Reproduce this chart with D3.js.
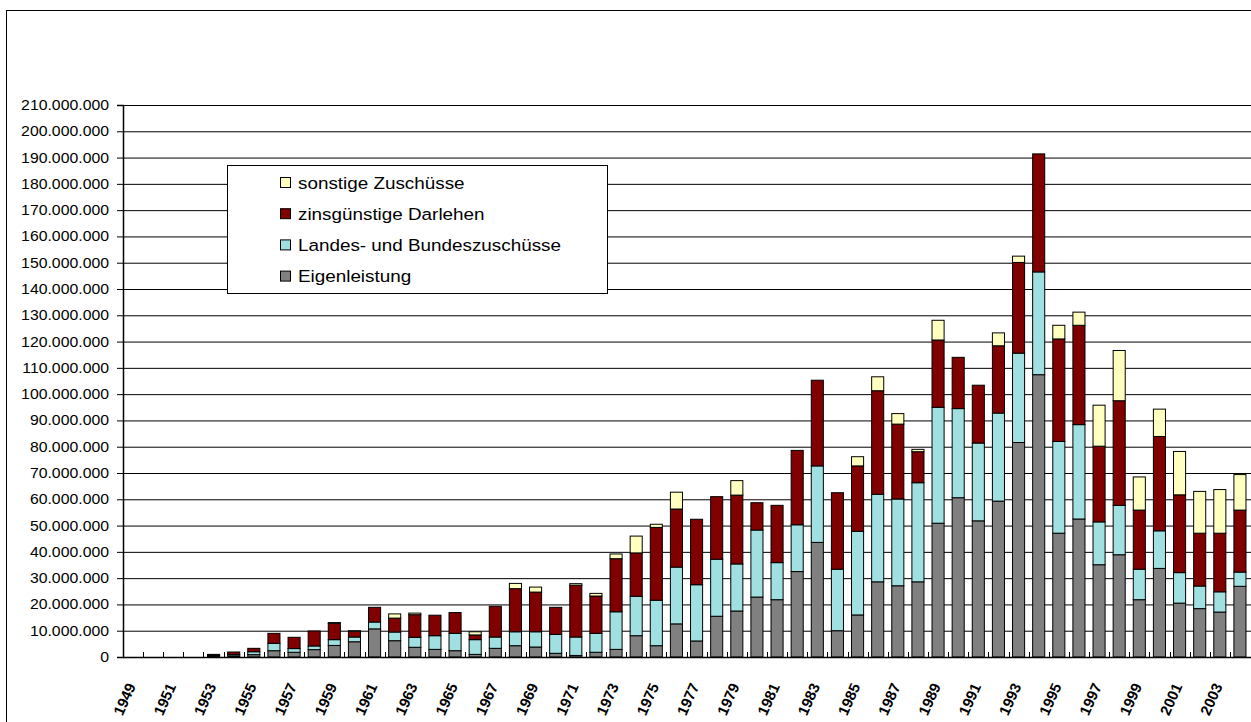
<!DOCTYPE html>
<html>
<head>
<meta charset="utf-8">
<script src="https://cdn.jsdelivr.net/npm/d3@7"></script>
<style>
  body { margin: 0; background: #fff; }
  svg { display: block; }
  text { font-family: "Liberation Sans", Arial, sans-serif; fill: #000; }
</style>
</head>
<body>
<div id="chart"></div>
<script>
// data (values in millions)
const years = [1949, 1950, 1951, 1952, 1953, 1954, 1955, 1956, 1957, 1958,
    1959, 1960, 1961, 1962, 1963, 1964, 1965, 1966, 1967, 1968,
    1969, 1970, 1971, 1972, 1973, 1974, 1975, 1976, 1977, 1978,
    1979, 1980, 1981, 1982, 1983, 1984, 1985, 1986, 1987, 1988,
    1989, 1990, 1991, 1992, 1993, 1994, 1995, 1996, 1997, 1998,
    1999, 2000, 2001, 2002, 2003, 2004]

const eigenleistung = [0, 0, 0, 0, 0.4, 0.4, 0.9, 2.4, 1.8, 2.8,
    4.4, 5.8, 10.7, 6.2, 3.7, 2.9, 2.4, 1.0, 3.3, 4.3,
    3.8, 1.4, 0.6, 1.8, 2.9, 8.1, 4.3, 12.6, 6.1, 15.5,
    17.5, 22.8, 21.8, 32.5, 43.6, 10.0, 16.0, 28.6, 27.1, 28.6,
    50.9, 60.6, 51.8, 59.3, 81.6, 107.4, 47.1, 52.5, 35.1, 38.9,
    21.8, 33.7, 20.5, 18.4, 17.1, 26.9]

const landesBund = [0, 0, 0, 0, 0.2, 0.5, 1.1, 2.8, 1.4, 1.4,
    2.2, 1.8, 2.6, 3.3, 3.8, 5.2, 6.6, 5.6, 4.3, 5.3,
    5.8, 7.2, 7.0, 7.2, 14.3, 15.0, 17.3, 21.6, 21.4, 21.7,
    17.9, 25.5, 14.1, 17.8, 29.1, 23.4, 31.8, 33.3, 33.0, 37.7,
    44.1, 33.9, 29.6, 33.5, 34.0, 39.1, 34.9, 35.9, 16.3, 18.8,
    11.6, 14.3, 11.6, 8.6, 7.7, 5.4]

const darlehen = [0, 0, 0, 0, 0.4, 1.0, 1.3, 3.8, 4.3, 5.7,
    6.2, 2.2, 5.6, 5.3, 8.6, 7.8, 7.9, 1.8, 11.7, 16.4,
    15.1, 10.3, 19.7, 14.2, 20.2, 16.5, 27.7, 22.1, 24.9, 23.8,
    26.2, 10.4, 21.8, 28.3, 32.6, 29.1, 24.9, 39.4, 28.5, 11.8,
    25.6, 19.5, 22.0, 25.6, 34.5, 44.9, 39.0, 37.8, 28.8, 39.8,
    22.5, 35.9, 29.6, 20.1, 22.3, 23.6]

const sonstige = [0, 0, 0, 0, 0, 0, 0, 0, 0, 0,
    0.3, 0.2, 0, 1.6, 0.6, 0, 0, 1.2, 0, 2.0,
    1.9, 0, 0.6, 1.0, 1.8, 6.4, 1.2, 6.4, 0, 0,
    5.5, 0, 0, 0, 0, 0, 3.5, 5.3, 4.0, 0.9,
    7.5, 0, 0, 4.9, 2.4, 0, 5.2, 5.0, 15.6, 19.1,
    12.6, 10.4, 16.5, 15.9, 16.6, 13.5]

const yTicks = [0, 10, 20, 30, 40, 50, 60, 70, 80, 90, 100,
    110, 120, 130, 140, 150, 160, 170, 180, 190, 200, 210]

const keys   = ["eigen", "landes", "darlehen", "sonstige"]
const labels = {
    eigen: "Eigenleistung",
    landes: "Landes- und Bundeszuschüsse",
    darlehen: "zinsgünstige Darlehen",
    sonstige: "sonstige Zuschüsse"
}
const colors = {
    eigen: "#808080",
    landes: "#a0e0e0",
    darlehen: "#800000",
    sonstige: "#ffffc0"
}

const mio = 1e6
const table = years.map((year, i) => ({
    year: year,
    eigen: eigenleistung[i] * mio,
    landes: landesBund[i] * mio,
    darlehen: darlehen[i] * mio,
    sonstige: sonstige[i] * mio
}))

// layout
const width = 1251
const height = 722
const plot = { left: 123, right: 1250, top: 105, bottom: 657 }

const de = d3.formatLocale({ decimal: ",", thousands: ".", grouping: [3], currency: ["", " €"] })
const fmt = de.format(",.0f")

const svg = d3.select("#chart")
    .append("svg")
        .attr("width", width)
        .attr("height", height)

// frame of the chart area
svg.append("rect")
    .attr("x", 6.5).attr("y", 10.5)
    .attr("width", width).attr("height", height)
    .attr("fill", "#fff")
    .attr("stroke", "#000")

const x = d3.scaleBand()
    .domain(years)
    .range([plot.left, plot.right])
    .paddingInner(0.4)
    .paddingOuter(0.2)

const y = d3.scaleLinear()
    .domain([0, 210 * mio])
    .range([plot.bottom, plot.top])

// gridlines
const grid = svg.append("g")
    .attr("transform", `translate(${plot.left},0)`)
    .call(d3.axisLeft(y)
        .tickValues(yTicks.map(d => d * mio))
        .tickSize(-(width - plot.left))
        .tickFormat(""))
grid.select(".domain").remove()
grid.selectAll("line").attr("stroke", "#000")

// bars
const series = d3.stack().keys(keys)(table)

svg.append("g").selectAll("g")
    .data(series)
    .join("g")
        .attr("fill", d => colors[d.key])
    .selectAll("rect")
    .data(d => d.filter(s => s[1] - s[0] > 0))
    .join("rect")
        .attr("x", d => x(d.data.year))
        .attr("y", d => y(d[1]))
        .attr("width", x.bandwidth())
        .attr("height", d => y(d[0]) - y(d[1]))
        .attr("stroke", "#000")
        .attr("stroke-width", 1)

// y axis
const yAxisGroup = svg.append("g")
    .attr("transform", `translate(${plot.left},0)`)
    .call(d3.axisLeft(y)
        .tickValues(yTicks.map(d => d * mio))
        .tickSize(6)
        .tickFormat(fmt))
yAxisGroup.selectAll("path, line").attr("stroke", "#000")
yAxisGroup.select(".domain").attr("stroke-width", 1.5)
yAxisGroup.selectAll("text")
    .attr("x", 0)
    .attr("transform", "translate(-14,0) scale(1.13,1)")
    .style("font-size", "14px")
    .style("font-family", "'Liberation Sans', Arial, sans-serif")

// x axis
const xAxisGroup = svg.append("g")
    .attr("transform", `translate(0,${plot.bottom})`)
    .call(d3.axisBottom(x)
        .tickValues(years.filter((d, i) => i % 2 === 0))
        .tickSize(0)
        .tickSizeOuter(0))
xAxisGroup.select(".domain").remove()
xAxisGroup.selectAll("text")
    .attr("x", 0).attr("y", 0).attr("dy", 0)
    .attr("text-anchor", "end")
    .attr("transform", "translate(3,29) rotate(-66)")
    .style("font-size", "15px")
    .style("font-weight", "bold")
    .style("font-family", "'Liberation Sans', Arial, sans-serif")

// baseline and category ticks
svg.append("line")
    .attr("x1", plot.left).attr("x2", width)
    .attr("y1", plot.bottom + 0.5).attr("y2", plot.bottom + 0.5)
    .attr("stroke", "#000")
    .attr("stroke-width", 1.5)

const halfGap = (x.step() - x.bandwidth()) / 2
svg.append("g").selectAll("line")
    .data(years)
    .join("line")
        .attr("x1", d => Math.round(x(d) - halfGap) + 0.5)
        .attr("x2", d => Math.round(x(d) - halfGap) + 0.5)
        .attr("y1", plot.bottom - 5)
        .attr("y2", plot.bottom)
        .attr("stroke", "#000")

// legend
const legend = svg.append("g")
legend.append("rect")
    .attr("x", 227.5).attr("y", 165.5)
    .attr("width", 380).attr("height", 128)
    .attr("fill", "#fff")
    .attr("stroke", "#000")

const legendItems = legend.selectAll("g.item")
    .data(keys.slice().reverse())
    .join("g")
        .attr("class", "item")
        .attr("transform", (d, i) => `translate(0,${188.5 + i * 31.2})`)

legendItems.append("rect")
    .attr("x", 280.5).attr("y", -11)
    .attr("width", 10).attr("height", 10)
    .attr("fill", d => colors[d])
    .attr("stroke", "#000")

legendItems.append("text")
    .attr("transform", "translate(298,0) scale(1.11,1)")
    .style("font-size", "17px")
    .text(d => labels[d])
</script>
</body>
</html>
